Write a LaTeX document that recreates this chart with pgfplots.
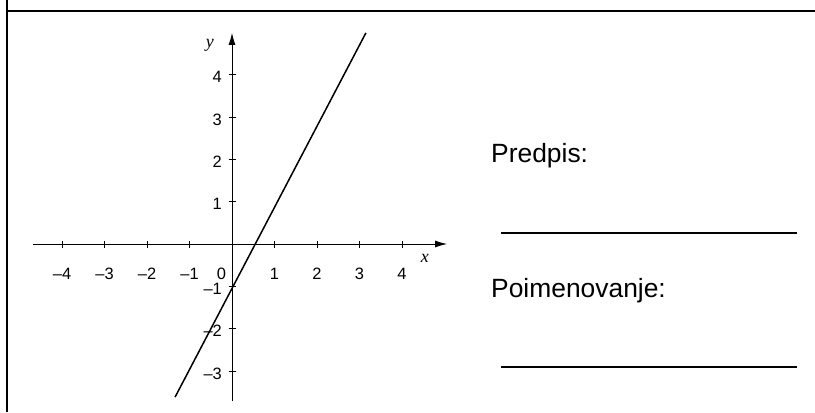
\documentclass[border=0pt]{standalone}
\usepackage{fontspec}
\setmainfont{Liberation Sans}
\newfontfamily\serif{Liberation Serif}
\usepackage{pgfplots}
\pgfplotsset{compat=1.18}
\usetikzlibrary{arrows.meta}
\begin{document}
\begin{tikzpicture}[x=1bp,y=1bp]
\useasboundingbox (0,0) rectangle (815,412);
\draw[line width=1.4bp] (7,0) -- (7,412);
\draw[line width=1.4bp] (7,401) -- (815,401);
\begin{axis}[
  at={(232bp,168bp)}, anchor=origin,
  x=42.5bp, y=42.3bp,
  xmin=-4.68, xmax=5.06, ymin=-3.71, ymax=4.99,
  axis lines=middle,
  axis line style={line width=0.8bp, -{Latex[length=12bp,width=7bp]}},
  xtick={-4,-3,-2,-1,1,2,3,4},
  xticklabels={\textendash4,\textendash3,\textendash2,\textendash1,1,2,3,4},
  ytick={-3,-2,-1,1,2,3,4},
  yticklabels={\textendash3,\textendash2,\textendash1,1,2,3,4},
  tick style={line width=0.8bp, black},
  major tick length=7bp,
  tick align=center,
  xticklabel style={font=\fontsize{16.5}{18}\selectfont, anchor=base, yshift=-32bp},
  yticklabel style={font=\fontsize{16.5}{18}\selectfont, anchor=east, inner sep=1bp, xshift=-5.5bp, yshift=-2.5bp},
  clip=false,
]
\addplot[black, line width=1.5bp] coordinates {(-1.34,-3.62) (3.15,4.99)};
\node[anchor=base, inner sep=0pt, font=\fontsize{16.5}{18}\selectfont] at (axis cs:-0.25,-0.835) {0};
\node[font=\serif\itshape\fontsize{18}{20}\selectfont] at (axis cs:4.54,-0.33) {x};
\node[font=\serif\itshape\fontsize{18}{20}\selectfont] at (axis cs:-0.52,4.70) {y};
\end{axis}
\node[anchor=base west, inner sep=0pt, font=\fontsize{26.5}{30}\selectfont] at (491,250) {Predpis:};
\node[anchor=base west, inner sep=0pt, font=\fontsize{26.5}{30}\selectfont] at (491,115) {Poimenovanje:};
\draw[line width=1.2bp] (501,179) -- (797,179);
\draw[line width=1.2bp] (501,45) -- (797,45);
\end{tikzpicture}
\end{document}
